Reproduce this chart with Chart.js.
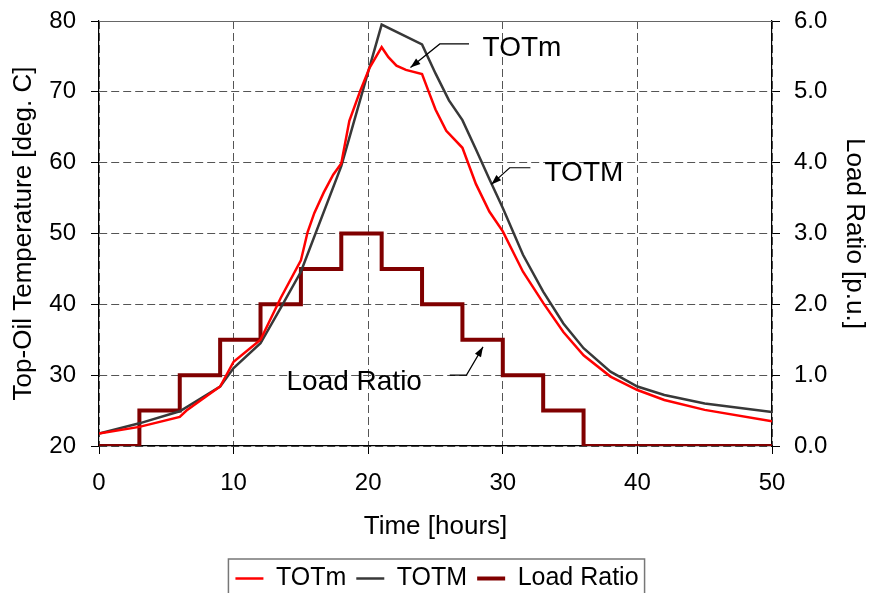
<!DOCTYPE html>
<html>
<head>
<meta charset="utf-8">
<script src="https://cdn.jsdelivr.net/npm/chart.js@4.4.1/dist/chart.umd.min.js"></script>
<style>
  html, body { margin: 0; padding: 0; background: #fff; }
  #wrap { width: 874px; height: 593px; }
</style>
</head>
<body>
<div id="wrap"><canvas id="oilChart"></canvas></div>
<script>
// TOTm (red) [deg. C] against time [hours]
const lowHours = [0, 3, 6, 6.5, 9, 10, 12, 13.5, 15, 15.5, 16, 16.7, 17.4, 18, 18.6, 19.4, 20.1, 21, 21.5, 22.1, 22.8, 24, 24.5, 25, 25.8, 27, 28, 29, 30, 31.5, 33, 34.5, 36, 38, 40, 42, 45, 50];
const totmLow = [21.75, 22.7, 24.1, 25.0, 28.4, 31.9, 35.0, 40.9, 46.2, 50.2, 52.9, 55.8, 58.3, 59.9, 65.9, 70.1, 73.4, 76.3, 74.9, 73.7, 73.1, 72.5, 70.0, 67.5, 64.5, 62.1, 57.0, 53.1, 50.3, 44.6, 40.2, 36.1, 32.8, 29.8, 27.9, 26.5, 25.1, 23.5];
// TOTM (dark grey) [deg. C] against time [hours]
const highHours = [0, 3, 6, 9, 10, 12, 13.5, 15, 18, 21, 24, 25, 26, 27, 28, 29, 30, 31.5, 33, 34.5, 36, 38, 40, 42, 45, 50];
const totmHigh = [21.75, 23.2, 24.9, 28.4, 31.0, 34.5, 39.5, 44.6, 59.5, 79.5, 76.7, 72.6, 68.8, 66.0, 61.9, 57.7, 53.6, 47.0, 41.8, 37.3, 33.8, 30.5, 28.4, 27.2, 26.0, 24.8];
// Load ratio steps [p.u.]
const loadHours = [0, 3, 6, 9, 12, 15, 18, 21, 24, 27, 30, 33, 36, 50];
const loadRatio = [0, 0.5, 1.0, 1.5, 2.0, 2.5, 3.0, 2.5, 2.0, 1.5, 1.0, 0.5, 0, 0];

const seriesNames = ['TOTm', 'TOTM', 'Load Ratio'];

const fontFamily = "'Liberation Sans', Arial, sans-serif";
const gridColor = '#555';

function pts(xs, ys) {
    return xs.map(function(x, i) { return { x: x, y: ys[i] }; });
}

// text labels with leader arrows, positioned in data units of x / y
const notes = [
    { text: 'TOTm', at: [28.5, 76.1], path: [[27.49, 76.76], [25.32, 76.76], [23.14, 73.44]] },
    { text: 'TOTM', at: [33.1, 58.5], path: [[32.05, 59.28], [30.51, 59.28], [29.15, 56.93]] },
    { text: 'Load Ratio', at: [13.93, 29.0], path: [[26.06, 30.0], [27.3, 30.0], [28.53, 34.0]] }
];

const notesPlugin = {
    id: 'notes',
    afterDatasetsDraw(chart) {
        const ctx = chart.ctx;
        const sx = chart.scales.x, sy = chart.scales.y;
        ctx.save();
        ctx.strokeStyle = '#000';
        ctx.fillStyle = '#000';
        ctx.lineWidth = 1.2;
        notes.forEach(function(n) {
            const p = n.path.map(function(q) { return [sx.getPixelForValue(q[0]), sy.getPixelForValue(q[1])]; });
            ctx.beginPath();
            ctx.moveTo(p[0][0], p[0][1]);
            for (let i = 1; i < p.length; i++) ctx.lineTo(p[i][0], p[i][1]);
            ctx.stroke();
            // arrow head
            const a = p[p.length - 2], b = p[p.length - 1];
            const ang = Math.atan2(b[1] - a[1], b[0] - a[0]);
            const len = 10, w = 3.5;
            ctx.beginPath();
            ctx.moveTo(b[0], b[1]);
            ctx.lineTo(b[0] - len * Math.cos(ang) + w * Math.sin(ang), b[1] - len * Math.sin(ang) - w * Math.cos(ang));
            ctx.lineTo(b[0] - len * Math.cos(ang) - w * Math.sin(ang), b[1] - len * Math.sin(ang) + w * Math.cos(ang));
            ctx.closePath();
            ctx.fill();
            ctx.font = '28px ' + fontFamily;
            ctx.textBaseline = 'middle';
            ctx.textAlign = 'left';
            ctx.fillText(n.text, sx.getPixelForValue(n.at[0]), sy.getPixelForValue(n.at[1]));
        });
        ctx.restore();
    }
};

// top edge of plot frame + box around the legend
const framePlugin = {
    id: 'frame',
    afterDraw(chart) {
        const ctx = chart.ctx;
        const a = chart.chartArea;
        ctx.save();
        ctx.strokeStyle = '#666';
        ctx.lineWidth = 1;
        ctx.beginPath();
        ctx.moveTo(a.left, a.top + 0.5);
        ctx.lineTo(a.right, a.top + 0.5);
        ctx.stroke();
        const boxes = chart.legend.legendHitBoxes;
        if (boxes && boxes.length) {
            let l = Infinity, r = -Infinity, t = Infinity, b = -Infinity;
            boxes.forEach(function(h) {
                l = Math.min(l, h.left); r = Math.max(r, h.left + h.width);
                t = Math.min(t, h.top); b = Math.max(b, h.top + h.height);
            });
            ctx.strokeStyle = '#777';
            ctx.lineWidth = 1.5;
            ctx.strokeRect(l - 7, t - 7, (r - l) + 13, (b - t) + 30);
        }
        ctx.restore();
    }
};

function noLabelPad(scale) {
    scale.paddingTop = 0;
    scale.paddingBottom = 0;
}

const ctxOil = document.getElementById('oilChart').getContext('2d');
new Chart(ctxOil, {
    type: 'line',
    data: {
        datasets: [{
            label: seriesNames[0],
            data: pts(lowHours, totmLow),
            borderColor: '#ff0000',
            backgroundColor: '#ff0000',
            borderWidth: 2.5,
            pointRadius: 0,
            yAxisID: 'y'
        }, {
            label: seriesNames[1],
            data: pts(highHours, totmHigh),
            borderColor: '#383838',
            backgroundColor: '#383838',
            borderWidth: 2.5,
            pointRadius: 0,
            yAxisID: 'y'
        }, {
            label: seriesNames[2],
            data: pts(loadHours, loadRatio),
            borderColor: '#800000',
            backgroundColor: '#800000',
            borderWidth: 4,
            pointRadius: 0,
            stepped: 'before',
            yAxisID: 'y1'
        }]
    },
    options: {
        responsive: true,
        maintainAspectRatio: false,
        animation: false,
        layout: { padding: { top: 21, left: 0, right: 0, bottom: -8 } },
        scales: {
            x: {
                type: 'linear',
                min: 0, max: 50,
                ticks: { stepSize: 10, color: '#000', font: { family: fontFamily, size: 24 }, padding: 15 },
                grid: { color: gridColor, tickColor: '#000', tickLength: 8 },
                border: { display: true, color: '#000', width: 1.2, dash: [8, 4] },
                title: { display: true, text: 'Time [hours]', color: '#000', font: { family: fontFamily, size: 26 }, padding: { top: 4, bottom: 14 } },
                afterFit(scale) { scale.height = 110; scale.paddingLeft = 0; scale.paddingRight = 0; }
            },
            y: {
                position: 'left',
                min: 20, max: 80,
                ticks: { stepSize: 10, color: '#000', font: { family: fontFamily, size: 24 }, padding: 15 },
                grid: { color: gridColor, tickColor: '#000', tickLength: 8 },
                border: { display: true, color: '#000', width: 1.2, dash: [8, 4] },
                title: { display: true, text: 'Top-Oil Temperature [deg. C]', color: '#000', font: { family: fontFamily, size: 26 }, padding: { top: 8, bottom: 4 } },
                afterFit(scale) { scale.width = 99; noLabelPad(scale); }
            },
            y1: {
                position: 'right',
                min: 0, max: 6,
                ticks: {
                    stepSize: 1, color: '#000', font: { family: fontFamily, size: 24 }, padding: 14,
                    callback: function(v) { return v.toFixed(1); }
                },
                grid: { drawOnChartArea: false, tickColor: '#000', tickLength: 8 },
                border: { display: true, color: '#000', width: 1.2 },
                title: { display: true, text: 'Load Ratio [p.u.]', color: '#000', font: { family: fontFamily, size: 26 }, padding: { top: 4, bottom: 4 } },
                afterFit(scale) { scale.width = 102; noLabelPad(scale); }
            }
        },
        plugins: {
            legend: {
                position: 'bottom',
                labels: {
                    color: '#000',
                    font: { family: fontFamily, size: 25 },
                    usePointStyle: true,
                    pointStyle: 'line',
                    pointStyleWidth: 28,
                    padding: 10
                }
            },
            tooltip: { enabled: false }
        }
    },
    plugins: [notesPlugin, framePlugin]
});
</script>
</body>
</html>
